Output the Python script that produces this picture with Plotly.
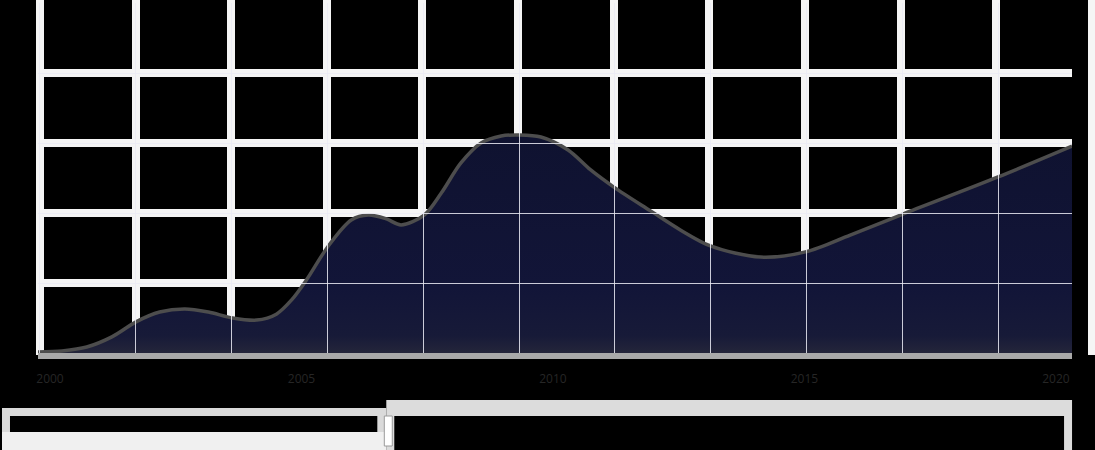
import plotly.graph_objects as go

W, H = 1095, 450

# data
years = [1999.76, 2000.24, 2000.73, 2001.23, 2001.71, 2002.18, 2002.68, 2003.15,
         2003.63, 2004.11, 2004.50, 2004.80, 2005.10, 2005.52, 2005.99, 2006.33,
         2006.69, 2006.98, 2007.44, 2007.78, 2008.17, 2008.57, 2008.97, 2009.33,
         2009.76, 2010.30, 2010.75, 2011.21, 2011.94, 2012.54, 2013.13, 2014.13,
         2015.02, 2015.91, 2016.96, 2018.85, 2020.32]
values = [0.3, 0.6, 1.7, 4.6, 8.9, 11.7, 12.6, 11.7,
          10.0, 9.4, 11.1, 15.1, 20.9, 30.3, 38.0, 39.4,
          38.3, 36.6, 39.4, 45.7, 54.3, 60.0, 62.0, 62.3,
          61.7, 58.0, 52.3, 47.4, 40.6, 35.1, 30.6, 27.4,
          28.9, 33.7, 39.7, 50.3, 59.1]

x_ticks = [2000, 2005, 2010, 2015, 2020]
x_labels = ["2000", "2005", "2010", "2015", "2020"]
y_ticks = [0, 20, 40, 60, 80, 100]
y_labels = ["0", "20", "40", "60", "80", "100"]
y_grid = [20, 40, 60, 80]

# plot box in pixels
left, right, top, bottom = 36, 1072, 3, 353
x_dom = [left / W, right / W]
y_dom = [1 - bottom / H, 1 - top / H]

fig = go.Figure()

# subplot 1: background vertical grid (full width)
fig.add_trace(go.Scatter(x=[], y=[], xaxis="x", yaxis="y", showlegend=False, hoverinfo="skip"))

# subplot 2: the area
fig.add_trace(go.Scatter(
    x=years, y=values, xaxis="x2", yaxis="y2",
    mode="lines", line=dict(color="#4d4d4d", width=3.5, shape="spline", smoothing=0.9),
    fill="tozeroy",
    fillgradient=dict(type="vertical", start=0, stop=62,
                      colorscale=[[0, "#24253a"], [0.08, "#171a38"], [0.3, "#121538"], [1, "#0f1230"]]),
    showlegend=False,
))

# subplot 4: thin grid on top of the area
fig.add_trace(go.Scatter(x=[], y=[], xaxis="x4", yaxis="y4", showlegend=False, hoverinfo="skip"))

hidden = dict(showticklabels=False, zeroline=False, ticks="", showline=False)

fig.update_layout(
    width=W, height=H,
    margin=dict(l=0, r=0, t=0, b=0),
    paper_bgcolor="#000000",
    plot_bgcolor="rgba(0,0,0,0)",
    font=dict(family="Open Sans, sans-serif", size=12, color="#262626"),
    xaxis=dict(domain=[0, 1], range=[0, W + 2], tick0=38, dtick=96, showgrid=True,
               gridwidth=8, gridcolor="#f5f5f5", anchor="y", **hidden),
    yaxis=dict(domain=[1 - 355 / H, 1], range=[0, 1], showgrid=False, anchor="x", **hidden),
    xaxis2=dict(domain=x_dom, range=[years[0], years[-1]], anchor="y2",
                tickvals=x_ticks, ticktext=x_labels, showgrid=False, zeroline=False,
                showline=True, linecolor="#a9a9a9", linewidth=6,
                ticks="outside", ticklen=10, tickcolor="rgba(0,0,0,0)",
                tickfont=dict(color="#262626", size=12)),
    yaxis2=dict(domain=y_dom, range=[0, 100], anchor="x2", tickvals=y_grid,
                showgrid=True, gridwidth=8, gridcolor="#f5f5f5", **hidden),
    yaxis3=dict(overlaying="y2", range=[0, 100], anchor="x2", side="left",
                tickvals=y_ticks, ticktext=y_labels, showgrid=False, zeroline=False,
                ticks="", tickfont=dict(color="#2a2a2a", size=12)),
    xaxis4=dict(domain=x_dom, range=[left, right], tick0=38, dtick=96, anchor="y4",
                showgrid=True, gridwidth=1, gridcolor="rgba(235,235,245,0.85)", **hidden),
    yaxis4=dict(domain=y_dom, range=[0, 100], anchor="x4", tickvals=y_grid,
                showgrid=True, gridwidth=1, gridcolor="rgba(235,235,245,0.85)", **hidden),
)


def px_rect(x0, y0, x1, y1, fill, line_color=None, line_width=0):
    fig.add_shape(type="rect", xref="paper", yref="paper",
                  x0=x0 / W, x1=x1 / W, y0=1 - y0 / H, y1=1 - y1 / H,
                  fillcolor=fill, line=dict(color=line_color or fill, width=line_width))


# bottom zoom strip
px_rect(0, 408, 385, 450, "#dadada")
px_rect(8, 416, 376, 432, "#000000")
px_rect(0, 432, 385, 450, "#f0f0f0")
px_rect(385, 400, 1072, 450, "#dcdcdc")
px_rect(393, 416, 1064, 450, "#000000")
px_rect(383, 416, 391, 446, "#ffffff", "#9a9a9a", 1)

fig.write_html("out.html", config=dict(displayModeBar=False),
               post_script="document.body.style.margin='0';document.body.style.background='#000';")
